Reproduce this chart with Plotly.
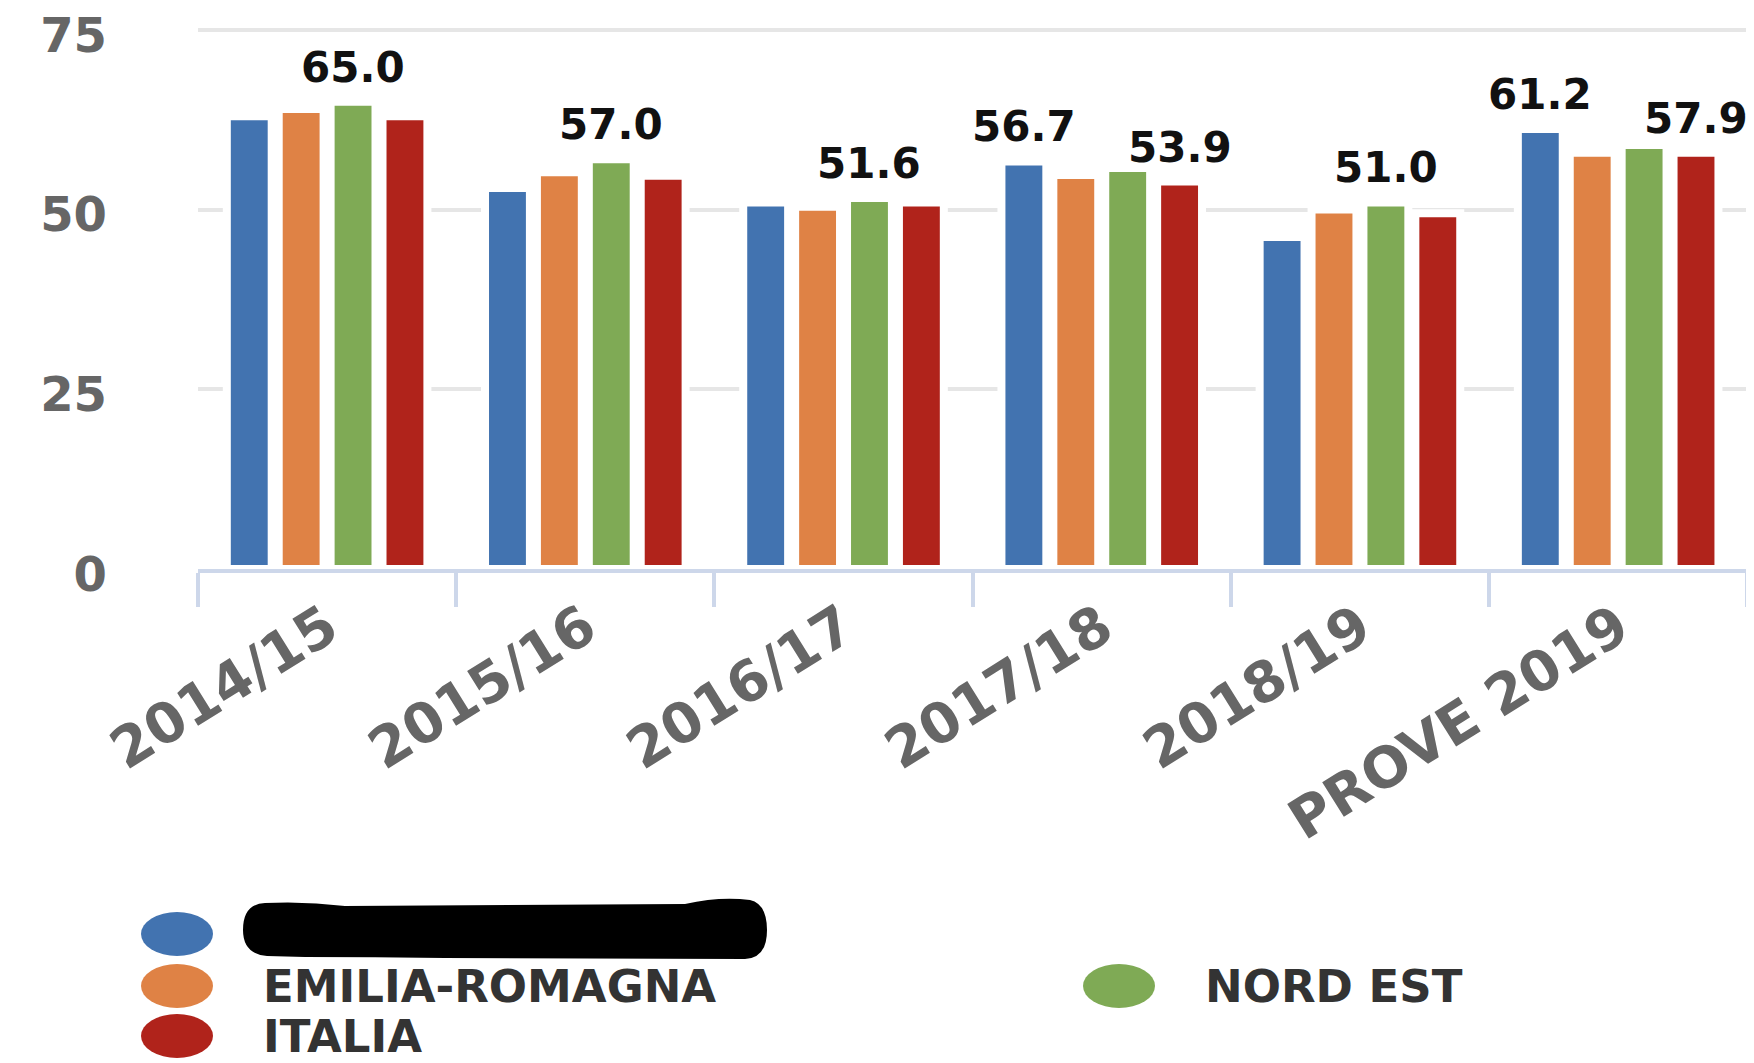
import plotly.graph_objects as go

# ---------------- data ----------------
categories = ["2014/15", "2015/16", "2016/17", "2017/18", "2018/19", "PROVE 2019"]
series_names = ["", "EMILIA-ROMAGNA", "NORD EST", "ITALIA"]  # first name redacted in source
values_s1 = [63.0, 53.0, 51.0, 56.7, 46.2, 61.2]
values_er = [64.0, 55.2, 50.4, 54.8, 50.0, 57.9]
values_ne = [65.0, 57.0, 51.6, 55.8, 51.0, 59.0]
values_it = [63.0, 54.7, 51.0, 53.9, 49.5, 57.9]
labels_s1 = ["", "", "", "56.7", "", "61.2"]
labels_er = ["", "", "", "", "", ""]
labels_ne = ["65.0", "57.0", "51.6", "", "51.0", ""]
labels_it = ["", "", "", "53.9", "", "57.9"]
y_ticks = [0, 25, 50, 75]

# ---------------- style ----------------
colors = ["#4273b0", "#df8245", "#7faa55", "#b0231b"]
PAGE_OFF = 8  # default body margin of the html page
W, H = 1754 - PAGE_OFF, 1063 - PAGE_OFF
M_L, M_R, M_T, M_B = 198 - PAGE_OFF, 4, 27 - PAGE_OFF, 494
PLOT_W = W - M_L - M_R
PLOT_H = H - M_T - M_B
BARGAP = 0.196
BARGROUPGAP = 0.135
FONT = "DejaVu Sans"

all_values = [values_s1, values_er, values_ne, values_it]
all_labels = [labels_s1, labels_er, labels_ne, labels_it]

fig = go.Figure()
for name, vals, col in zip(series_names, all_values, colors):
    fig.add_trace(go.Bar(
        x=categories, y=vals, name=name,
        marker=dict(color=col, line=dict(color="white", width=8)),
        showlegend=False, hoverinfo="x+y",
    ))

# data labels above selected bars
n_series = len(all_values)
slot = (1 - BARGAP) / n_series
annotations = []
for k, (vals, labs) in enumerate(zip(all_values, all_labels)):
    off = (k - (n_series - 1) / 2) * slot
    for i, (v, t) in enumerate(zip(vals, labs)):
        if t:
            annotations.append(dict(
                x=i + off, y=v, xref="x", yref="y", text=t, showarrow=False,
                xanchor="center", yanchor="bottom", yshift=8,
                font=dict(family=FONT, size=42, color="#111111", weight=700),
            ))


def px_x(px):  # page pixel -> paper
    return (px - PAGE_OFF - M_L) / PLOT_W


def px_y(py):
    return (H - M_B - (py - PAGE_OFF)) / PLOT_H


# manual legend (large elliptical markers), positions in page pixels
legend_pos = [(177, 934), (177, 986), (1119, 986), (177, 1036)]
shapes = []
for (cx, cy), col in zip(legend_pos, colors):
    shapes.append(dict(
        type="circle", xref="paper", yref="paper",
        xsizemode="pixel", ysizemode="pixel",
        xanchor=px_x(cx), yanchor=px_y(cy),
        x0=-36, x1=36, y0=-22, y1=22,
        fillcolor=col, line=dict(width=0), layer="above",
    ))
for (cx, cy), name in zip(legend_pos, series_names):
    if name:
        annotations.append(dict(
            x=px_x(cx + 84), y=px_y(cy), xref="paper", yref="paper",
            text=name, showarrow=False, xanchor="left", yanchor="middle",
            font=dict(family=FONT, size=45, color="#333333", weight=700),
        ))

# redaction blob over the first legend name
shapes.append(dict(
    type="path", xref="paper", yref="paper",
    xsizemode="pixel", ysizemode="pixel",
    xanchor=px_x(505), yanchor=px_y(930),
    path=("M -240,27 Q -200,29 -160,24 L 180,26 Q 215,34 245,30 Q 262,26 262,0 "
          "Q 262,-28 240,-29 L -60,-28 Q -130,-27 -200,-27 L -238,-26 "
          "Q -262,-24 -262,0 Q -262,26 -240,27 Z"),
    fillcolor="black", line=dict(width=0), layer="above",
))

fig.update_layout(
    width=W, height=H,
    margin=dict(l=M_L, r=M_R, t=M_T, b=M_B, pad=0, autoexpand=False),
    paper_bgcolor="white", plot_bgcolor="white",
    barmode="group", bargap=BARGAP, bargroupgap=BARGROUPGAP,
    showlegend=False,
    annotations=annotations, shapes=shapes,
    xaxis=dict(
        type="category", tickson="boundaries", automargin=False,
        ticks="outside", ticklen=34, tickwidth=4, tickcolor="#cdd7ea",
        showline=True, linecolor="#cdd7ea", linewidth=4,
        showgrid=False, tickangle=-32, ticklabeloverflow="allow",
        tickfont=dict(family=FONT, size=56, color="#666666", weight=700),
    ),
    yaxis=dict(
        range=[0, 75.4], tickvals=y_ticks, showgrid=True, automargin=False,
        gridcolor="#e6e6e6", gridwidth=4, zeroline=False, showline=False,
        ticks="", ticklabelstandoff=90, ticklabelshift=5,
        ticklabeloverflow="allow",
        tickfont=dict(family=FONT, size=48, color="#666666", weight=700),
    ),
)

fig.write_html("out.html")
